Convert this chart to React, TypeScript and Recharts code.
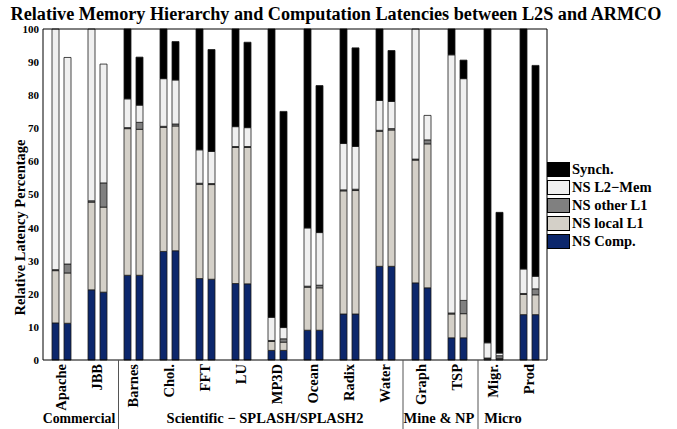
import React from 'react';
import { BarChart, Bar, XAxis, YAxis, Legend } from 'recharts';

const categories = ['Apache', 'JBB', 'Barnes', 'Chol.', 'FFT', 'LU', 'MP3D', 'Ocean', 'Radix', 'Water', 'Graph', 'TSP', 'Migr.', 'Prod'];
const groupLabels = ['Commercial', 'Scientific \u2212 SPLASH/SPLASH2', 'Mine & NP', 'Micro'];
const groupStarts = [0, 2, 10, 12];
const groupEnds = [1, 9, 11, 13];
const yTicks = [0, 10, 20, 30, 40, 50, 60, 70, 80, 90, 100];
const seriesNames = ['NS Comp.', 'NS local L1', 'NS other L1', 'NS L2\u2212Mem', 'Synch.'];
const seriesColors = ['#0c276c', '#d4d0c8', '#808080', '#f0f0f0', '#000000'];

// L2S (left bar of each pair)
const l2sComp = [11.2, 21.2, 25.6, 32.8, 24.6, 23.1, 2.9, 9.0, 13.9, 28.3, 23.3, 6.7, 0.2, 13.7];
const l2sLocal = [15.8, 26.5, 44.3, 37.5, 28.5, 41.1, 2.7, 13.0, 37.2, 40.8, 37.1, 7.2, 0.3, 6.1];
const l2sOther = [0.3, 0.4, 0.3, 0.3, 0.3, 0.3, 0.3, 0.3, 0.3, 0.3, 0.3, 0.3, 0.1, 0.3];
const l2sMem = [72.7, 51.9, 8.7, 14.4, 10.1, 6.0, 7.0, 17.6, 14.0, 9.0, 39.3, 78.0, 4.6, 7.4];
const l2sSynch = [0, 0, 21.1, 15.0, 36.5, 29.5, 87.1, 60.1, 34.6, 21.6, 0, 7.8, 94.8, 72.5];

// ARMCO (right bar of each pair)
const armComp = [11.1, 20.5, 25.6, 33.0, 24.4, 23.0, 2.9, 9.0, 13.9, 28.3, 21.8, 6.7, 0.2, 13.7];
const armLocal = [15.2, 25.7, 44.1, 37.7, 28.6, 41.2, 2.5, 12.8, 37.3, 41.2, 43.5, 7.3, 0.3, 6.0];
const armOther = [2.7, 7.3, 2.1, 0.6, 0.3, 0.3, 1.0, 0.8, 0.4, 0.4, 1.2, 4.0, 0.8, 1.8];
const armMem = [62.4, 35.9, 5.2, 13.3, 9.7, 5.7, 3.4, 15.9, 12.9, 8.2, 7.4, 67.0, 0.8, 3.8];
const armSynch = [0, 0, 14.5, 11.6, 30.8, 25.8, 65.3, 44.4, 29.8, 15.4, 0, 5.6, 42.5, 63.7];

const data = categories.map((name, i) => ({
  name,
  l2sComp: l2sComp[i], l2sLocal: l2sLocal[i], l2sOther: l2sOther[i], l2sMem: l2sMem[i], l2sSynch: l2sSynch[i],
  armComp: armComp[i], armLocal: armLocal[i], armOther: armOther[i], armMem: armMem[i], armSynch: armSynch[i],
}));

const l2sKeys = ['l2sComp', 'l2sLocal', 'l2sOther', 'l2sMem', 'l2sSynch'];
const armKeys = ['armComp', 'armLocal', 'armOther', 'armMem', 'armSynch'];

const W = 677;
const H = 429;
const MARGIN = { top: 29, right: 130, bottom: 0, left: 0 };
const YW = 43;
const XH = 69;
const STEP = (W - MARGIN.left - MARGIN.right - YW) / categories.length;
const FONT = '"Liberation Serif", "Times New Roman", serif';
// visual nudges (px) for group separators and group captions
const SEP_SHIFT = [0, 3.5, 0, 3];
const LABEL_SHIFT = [0, 6, 0, -8];

function XTick(props: any) {
  const { x, y, payload } = props;
  const idx = payload.index;
  const gi = groupStarts.indexOf(idx);
  return (
    <g>
      <text
        x={0}
        y={0}
        transform={`translate(${x + 5},${y + 4}) rotate(-90)`}
        textAnchor="end"
        fontFamily={FONT}
        fontWeight="bold"
        fontSize={14.5}
        fill="#000"
      >
        {payload.value}
      </text>
      {gi > 0 && (
        <line
          x1={x - STEP / 2 + SEP_SHIFT[gi]}
          x2={x - STEP / 2 + SEP_SHIFT[gi]}
          y1={y}
          y2={H}
          stroke="#555"
          strokeWidth={1}
        />
      )}
      {gi >= 0 && (
        <text
          x={x + ((groupEnds[gi] - groupStarts[gi]) * STEP) / 2 + LABEL_SHIFT[gi]}
          y={y + 63}
          textAnchor="middle"
          fontFamily={FONT}
          fontWeight="bold"
          fontSize={gi === 0 ? 13.8 : 14.5}
          fill="#000"
        >
          {groupLabels[gi]}
        </text>
      )}
    </g>
  );
}

function LegendContent(props: any) {
  const items = (props.payload || [])
    .filter((p: any) => l2sKeys.includes(p.dataKey))
    .sort((a: any, b: any) => l2sKeys.indexOf(b.dataKey) - l2sKeys.indexOf(a.dataKey));
  return (
    <div style={{ fontFamily: FONT, fontWeight: 'bold', fontSize: 14.5, color: '#000' }}>
      {items.map((it: any) => (
        <div key={it.dataKey} style={{ display: 'flex', alignItems: 'center', height: 17.8 }}>
          <div
            style={{
              width: 21,
              height: 13,
              background: it.color,
              border: '1px solid #000',
              marginRight: 2,
            }}
          />
          <span style={{ lineHeight: '15px' }}>{it.value}</span>
        </div>
      ))}
    </div>
  );
}

export default function App() {
  return (
    <div style={{ position: 'absolute', left: 0, top: 0, width: W, height: H, background: '#fff' }}>
      <svg width={W} height={26} style={{ position: 'absolute', left: 0, top: 0 }}>
        <text x={336} y={20} textAnchor="middle" fontFamily={FONT} fontWeight="bold" fontSize={18.2} fill="#000">
          Relative Memory Hierarchy and Computation Latencies between L2S and ARMCO
        </text>
      </svg>
      <BarChart width={W} height={H} data={data} margin={MARGIN} barSize={7} barGap={5}>
        <XAxis
          dataKey="name"
          xAxisId="main"
          type="category"
          interval={0}
          height={XH}
          tickLine={false}
          tickSize={0}
          tickMargin={0}
          axisLine={{ stroke: '#000', strokeWidth: 1 }}
          tick={<XTick />}
        />
        <XAxis
          dataKey="name"
          xAxisId="top"
          orientation="top"
          mirror
          tick={false}
          tickLine={false}
          axisLine={{ stroke: '#000', strokeWidth: 1 }}
        />
        <YAxis
          yAxisId="main"
          type="number"
          domain={[0, 100]}
          ticks={yTicks}
          interval={0}
          width={YW}
          tickLine={false}
          tickSize={0}
          tickMargin={4}
          axisLine={{ stroke: '#000', strokeWidth: 1 }}
          tick={{ fontFamily: FONT, fontWeight: 'bold', fontSize: 11, fill: '#000' }}
          label={{
            value: 'Relative Latency Percentage',
            angle: -90,
            position: 'center',
            dx: -2,
            dy: 33,
            style: { fontFamily: FONT, fontWeight: 'bold', fontSize: 14.5, fill: '#000', textAnchor: 'middle' },
          }}
        />
        <YAxis
          yAxisId="leftIn"
          orientation="left"
          mirror
          type="number"
          domain={[0, 100]}
          allowDataOverflow
          ticks={yTicks}
          interval={0}
          tick={false}
          tickSize={4}
          tickLine={{ stroke: '#000' }}
          axisLine={false}
        />
        <YAxis
          yAxisId="rightIn"
          orientation="right"
          mirror
          type="number"
          domain={[0, 100]}
          allowDataOverflow
          ticks={yTicks}
          interval={0}
          tick={false}
          tickSize={4}
          tickLine={{ stroke: '#000' }}
          axisLine={{ stroke: '#000', strokeWidth: 1 }}
        />
        <Legend
          layout="vertical"
          align="center"
          verticalAlign="middle"
          content={<LegendContent />}
          wrapperStyle={{ left: 547, top: 161, width: 'auto', height: 'auto' }}
        />
        {l2sKeys.map((k, i) => (
          <Bar
            key={k}
            dataKey={k}
            name={seriesNames[i]}
            stackId="l2s"
            xAxisId="main"
            yAxisId="main"
            fill={seriesColors[i]}
            stroke="#1a1a1a"
            strokeWidth={0.8}
            isAnimationActive={false}
          />
        ))}
        {armKeys.map((k, i) => (
          <Bar
            key={k}
            dataKey={k}
            name={seriesNames[i]}
            stackId="arm"
            xAxisId="main"
            yAxisId="main"
            fill={seriesColors[i]}
            stroke="#1a1a1a"
            strokeWidth={0.8}
            legendType="none"
            isAnimationActive={false}
          />
        ))}
      </BarChart>
    </div>
  );
}
